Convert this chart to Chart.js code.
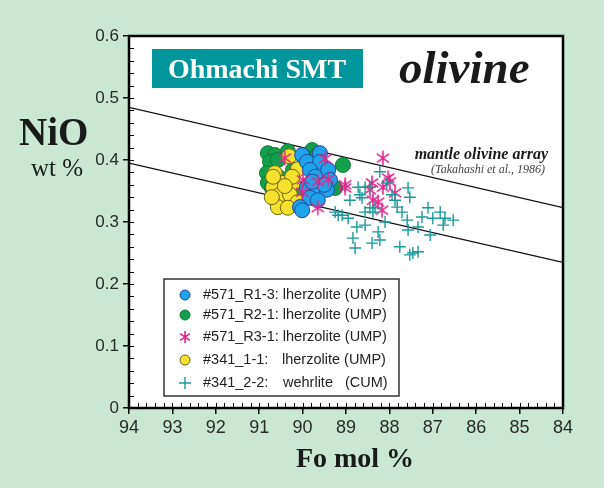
<!DOCTYPE html>
<html>
<head>
<meta charset="utf-8">
<script src="https://cdn.jsdelivr.net/npm/chart.js@4.4.0/dist/chart.umd.min.js"></script>
<style>
body { margin: 0; background: #c9e7d3; }
#wrap { width: 604px; height: 488px; }
</style>
</head>
<body>
<div id="wrap"><canvas id="olivinoChart" width="604" height="488"></canvas></div>
<script>
// Datos: [Fo mol %, NiO wt %]
var r13 = [[90.01,0.408],[89.90,0.397],[89.60,0.411],[89.60,0.397],[89.83,0.384],[89.41,0.384],
  [89.71,0.373],[89.37,0.368],[89.90,0.356],[89.67,0.352],[89.44,0.352],[89.83,0.339],
  [90.06,0.324],[89.65,0.335],[89.50,0.360],[89.78,0.365],[90.01,0.319]];
var r21 = [[90.80,0.411],[90.64,0.408],[90.75,0.397],[90.57,0.400],[90.82,0.379],[90.80,0.363],
  [90.71,0.355],[89.78,0.416],[89.65,0.408],[89.07,0.392],[89.25,0.355],[90.22,0.384],
  [90.06,0.352],[90.41,0.344],[90.52,0.371],[89.99,0.406],[90.34,0.414]];
var r31 = [[90.41,0.403],[89.48,0.402],[89.99,0.368],[89.65,0.365],[89.41,0.369],[90.01,0.348],
  [89.02,0.360],[89.02,0.355],[89.65,0.323],[88.15,0.403],[88.40,0.363],[88.03,0.371],
  [87.99,0.365],[88.15,0.356],[87.87,0.347],[88.38,0.335],[88.26,0.332],[88.17,0.319],[88.45,0.352]];
var s11 = [[90.31,0.406],[90.11,0.385],[90.64,0.379],[90.45,0.363],[90.22,0.363],[90.68,0.356],
  [90.52,0.344],[90.29,0.344],[90.11,0.332],[90.57,0.324],[90.34,0.323],[90.71,0.340],
  [90.68,0.373],[90.24,0.373],[90.41,0.358]];
var s22 = [[88.22,0.381],[88.72,0.356],[88.56,0.356],[88.45,0.356],[88.91,0.335],[88.68,0.344],
  [87.57,0.355],[87.53,0.340],[87.82,0.324],[87.71,0.316],[88.45,0.323],[88.56,0.316],
  [88.38,0.316],[89.18,0.311],[89.09,0.311],[88.95,0.306],[89.25,0.316],[87.11,0.323],
  [86.83,0.316],[86.72,0.306],[86.53,0.303],[87.00,0.306],[87.25,0.308],[87.59,0.303],
  [87.57,0.287],[87.34,0.292],[87.06,0.279],[86.76,0.295],[88.75,0.292],[88.56,0.295],
  [88.10,0.300],[88.26,0.284],[88.84,0.274],[88.22,0.271],[88.40,0.266],[88.79,0.258],
  [87.76,0.260],[87.46,0.250],[87.34,0.252],[87.53,0.247],[87.94,0.344],[87.87,0.335],
  [88.63,0.339],[88.06,0.363],[88.33,0.323]];
// mantle olivine array (Takahashi et al., 1986)
var arrayUpper = [[94,0.485],[84,0.323]];
var arrayLower = [[94,0.395],[84,0.235]];
var legendLabels = ['#571_R1-3: lherzolite (UMP)', '#571_R2-1: lherzolite (UMP)',
  '#571_R3-1: lherzolite (UMP)', '#341_1-1:|lherzolite (UMP)', '#341_2-2:|wehrlite|(CUM)'];

function pts(arr) { return arr.map(p => ({x: p[0], y: p[1]})); }

// Estrella de 6 brazos para R3-1
function dibujarEstrella(ctx, cx, cy, r) {
    ctx.save();
    ctx.strokeStyle = '#e3268c';
    ctx.lineWidth = 1.6;
    ctx.beginPath();
    [90, 35, 145].forEach(function(a) {
        var rad = a * Math.PI / 180;
        ctx.moveTo(cx - r * Math.cos(rad), cy - r * Math.sin(rad));
        ctx.lineTo(cx + r * Math.cos(rad), cy + r * Math.sin(rad));
    });
    ctx.stroke();
    ctx.restore();
}
var estrella = document.createElement('canvas');
estrella.width = 18; estrella.height = 18;
dibujarEstrella(estrella.getContext('2d'), 9, 9, 7.5);

var serie = [
    {fill: '#1ea4ea', border: '#2744a0'},
    {fill: '#13a04c', border: '#0b7a34'},
    {style: 'star'},
    {fill: '#f6e22c', border: '#6f6414'},
    {style: 'cross'}
];

var decoracion = {
    id: 'decoracion',
    beforeDraw: function(chart) {
        var c = chart.ctx;
        c.save();
        c.fillStyle = '#c9e7d3';
        c.fillRect(0, 0, chart.width, chart.height);
        var a = chart.chartArea;
        c.fillStyle = '#ffffff';
        c.fillRect(a.left, a.top, a.right - a.left, a.bottom - a.top);
        c.restore();
    },
    afterDraw: function(chart) {
        var c = chart.ctx, a = chart.chartArea;
        var xs = chart.scales.x, ys = chart.scales.y;
        c.save();
        // ticks menores hacia dentro
        c.strokeStyle = '#000'; c.lineWidth = 1;
        c.beginPath();
        for (var i = 0; i <= 50; i++) {
            var px = Math.round(xs.getPixelForValue(84 + i * 0.2)) + 0.5;
            c.moveTo(px, a.bottom); c.lineTo(px, a.bottom - 5);
        }
        for (var j = 0; j <= 30; j++) {
            var py = Math.round(ys.getPixelForValue(j * 0.02)) + 0.5;
            c.moveTo(a.left, py); c.lineTo(a.left + 5, py);
        }
        c.stroke();
        // marco
        c.lineWidth = 2.5;
        c.strokeRect(a.left, a.top, a.right - a.left, a.bottom - a.top);

        // titulos de ejes
        c.fillStyle = '#1a1a1a';
        c.textBaseline = 'alphabetic';
        c.textAlign = 'left';
        c.font = 'bold 39px "Liberation Serif"';
        c.fillText('NiO', 19, 145);
        c.textAlign = 'right';
        c.font = '25px "Liberation Serif"';
        c.fillText('wt %', 83, 176);
        c.textAlign = 'center';
        c.font = 'bold 28px "Liberation Serif"';
        c.fillText('Fo mol %', 355, 467);

        // caja del titulo
        c.fillStyle = '#00969c';
        c.fillRect(152, 49, 211, 39);
        c.fillStyle = '#ffffff';
        c.font = 'bold 28px "Liberation Serif"';
        c.fillText('Ohmachi SMT', 257, 78);
        c.fillStyle = '#1a1a1a';
        c.font = 'italic bold 47px "Liberation Serif"';
        c.textAlign = 'left';
        c.fillText('olivine', 399, 83);
        c.textAlign = 'right';
        c.font = 'italic bold 16px "Liberation Serif"';
        c.fillText('mantle olivine array', 548, 159);
        c.fillStyle = '#444';
        c.font = 'italic 12px "Liberation Serif"';
        c.fillText('(Takahashi et al., 1986)', 545, 173);

        // leyenda
        c.fillStyle = '#ffffff';
        c.fillRect(164, 279, 235, 117);
        c.strokeStyle = '#333'; c.lineWidth = 1.5;
        c.strokeRect(164, 279, 235, 117);
        var filas = [295, 315, 337, 360, 383];
        var columnas = [[203], [203], [203], [203, 282], [203, 283, 345]];
        c.font = '14.5px "Liberation Sans"';
        c.textAlign = 'left';
        c.textBaseline = 'middle';
        legendLabels.forEach(function(lbl, k) {
            var y = filas[k], s = serie[k];
            if (s.style === 'star') {
                dibujarEstrella(c, 185, y, 6);
            } else if (s.style === 'cross') {
                c.strokeStyle = '#1a9a9c'; c.lineWidth = 1.4;
                c.beginPath();
                c.moveTo(179, y); c.lineTo(191, y);
                c.moveTo(185, y - 6); c.lineTo(185, y + 6);
                c.stroke();
            } else {
                c.beginPath();
                c.arc(185, y, 5, 0, Math.PI * 2);
                c.fillStyle = s.fill; c.fill();
                c.strokeStyle = s.border; c.lineWidth = 1; c.stroke();
            }
            c.fillStyle = '#222';
            lbl.split('|').forEach(function(parte, m) {
                c.fillText(parte, columnas[k][m], y);
            });
        });
        c.restore();
    }
};

function circulo(data, s, ord) {
    return {data: pts(data), pointStyle: 'circle', pointRadius: 7.5, pointBorderWidth: 1,
        backgroundColor: s.fill, borderColor: s.border, order: ord};
}

var ctx = document.getElementById('olivinoChart').getContext('2d');
new Chart(ctx, {
    type: 'scatter',
    data: {
        datasets: [
            {data: pts(arrayUpper), showLine: true, borderColor: '#111', borderWidth: 1.2, pointRadius: 0, order: 10},
            {data: pts(arrayLower), showLine: true, borderColor: '#111', borderWidth: 1.2, pointRadius: 0, order: 10},
            circulo(r21, serie[1], 5),
            circulo(s11, serie[3], 4),
            circulo(r13, serie[0], 3),
            {data: pts(r31), pointStyle: estrella, pointRadius: 8, order: 2},
            {data: pts(s22), pointStyle: 'cross', pointRadius: 6, pointBorderWidth: 1.4,
                borderColor: '#1a9a9c', backgroundColor: '#1a9a9c', order: 1}
        ]
    },
    options: {
        responsive: false,
        animation: false,
        layout: {padding: {left: 0, top: 36, right: 41, bottom: 0}},
        plugins: {legend: {display: false}, tooltip: {enabled: false}},
        scales: {
            x: {
                type: 'linear', reverse: true, min: 84, max: 94,
                afterFit: function(s) { s.height = 80; },
                ticks: {stepSize: 1, color: '#2a2a2a', padding: 3,
                    font: {family: '"Liberation Sans"', size: 18}},
                grid: {drawOnChartArea: false, tickLength: 6, color: '#000', lineWidth: 1.5},
                border: {display: false}
            },
            y: {
                min: 0, max: 0.6,
                afterFit: function(s) { s.width = 129; },
                ticks: {stepSize: 0.1, color: '#2a2a2a', padding: 4,
                    font: {family: '"Liberation Sans"', size: 17},
                    callback: function(v) { return v === 0 ? '0' : v.toFixed(1); }},
                grid: {drawOnChartArea: false, tickLength: 6, color: '#000', lineWidth: 1.5},
                border: {display: false}
            }
        }
    },
    plugins: [decoracion]
});
</script>
</body>
</html>
